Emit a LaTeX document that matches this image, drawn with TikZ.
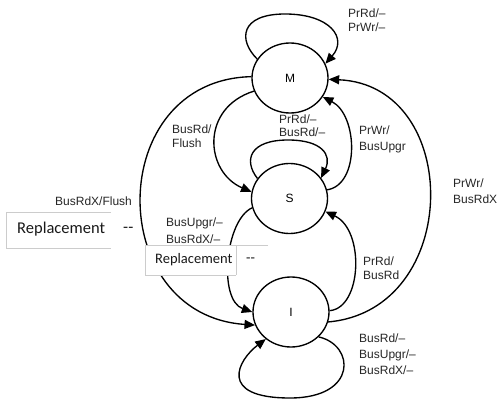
\documentclass[tikz,border=0pt]{standalone}
\usepackage{fontspec}
\setmainfont{Liberation Sans}
\newfontfamily\tablefont{Carlito}
\usetikzlibrary{arrows.meta,shapes.geometric}

\begin{document}
\begin{tikzpicture}[x=1pt,y=-1pt,
  state/.style={ellipse,draw,line width=1.35pt,minimum width=76pt,minimum height=70pt,
    inner sep=0pt,font=\fontsize{12}{14}\selectfont},
  trans/.style={line width=1.35pt,-{Triangle[length=10.5pt,width=9pt]}},
  lbl/.style={align=left,anchor=west,inner sep=0pt,text=black!85,
    font=\fontsize{12}{14}\selectfont},
  lblmid/.style={lbl,font=\fontsize{12}{16}\selectfont},
  lblwide/.style={lbl,font=\fontsize{12}{17}\selectfont},
  cellline/.style={draw=black!20,line width=0.8pt},
  celltext/.style={anchor=west,inner sep=0pt,text=black!90},
]
\useasboundingbox (0,0) rectangle (500,401);

% MSI states
\node[state] (M) at (290,78) {M};
\node[state] (S) at (289.5,198.5) {S};
\node[state] (I) at (291,312) {I};

% transitions
\draw[trans] (M.150) .. controls (238,40) and (240,14) .. (285,14)
                     .. controls (330,14) and (348,38) .. (M.22);
\draw[trans] (M.200) .. controls (200,108) and (205,172) .. (S.170);
\draw[trans] (S.148) .. controls (243,160) and (250,140) .. (288,140)
                     .. controls (322,140) and (332,155) .. (S.33);
\draw[trans] (S.13) .. controls (360,185) and (358,115) .. (M.-30);
\draw[trans] (I.-15) .. controls (463,310) and (463,85) .. (M.-2);
\draw[trans] (I.2) .. controls (362,308) and (365,230) .. (S.-20);
\draw[trans] (S.194) .. controls (225,220) and (218,300) .. (I.180);
\draw[trans] (M.178) .. controls (104,80) and (104,315) .. (I.200);
\draw[trans] (I.-42) .. controls (355,345) and (358,398) .. (290,398)
                     .. controls (217,398) and (238,360) .. (I.227);

% transition labels
\node[lbl] (lM) at (348,20) {PrRd/–\\PrWr/–};
\node[lbl] (lMS) at (172,136) {BusRd/\\Flush};
\node[lbl,font=\fontsize{12}{13.5}\selectfont] (lS) at (279,125.5) {PrRd/–\\BusRd/–};
\node[lblmid] (lSM) at (359,139) {PrWr/\\BusUpgr};
\node[lblmid] (lIM) at (453,191) {PrWr/\\BusRdX};
\node[lbl] (lMI) at (55,201) {BusRdX/Flush};
\node[lblwide] (lSI) at (166,231) {BusUpgr/–\\BusRdX/–};
\node[lbl] (lIS) at (363,268) {PrRd/\\BusRd};
\node[lblmid] (lI) at (359,354.5) {BusRd/–\\BusUpgr/–\\BusRdX/–};

% replacement cells
\fill[white] (6,212) rectangle (111,248);
\draw[cellline] (111,212) -- (6,212) -- (6,248) -- (111,248);
\node[celltext,font=\tablefont\fontsize{16.5}{18}\selectfont] (r1) at (17,229) {Replacement};
\node[celltext,font=\tablefont\fontsize{16.5}{18}\selectfont] (d1) at (123,230) {-\kern0pt-};

\fill[white] (145,245) rectangle (268,275);
\draw[cellline] (268,245) -- (145,245) -- (145,275) -- (236,275);
\draw[cellline] (236,245) -- (236,275);
\node[celltext,font=\tablefont\fontsize{14.5}{16}\selectfont] (r2) at (155,260) {Replacement};
\node[celltext,font=\tablefont\fontsize{14.5}{16}\selectfont] (d2) at (246,260) {-\kern0pt-};
\end{tikzpicture}
\end{document}
